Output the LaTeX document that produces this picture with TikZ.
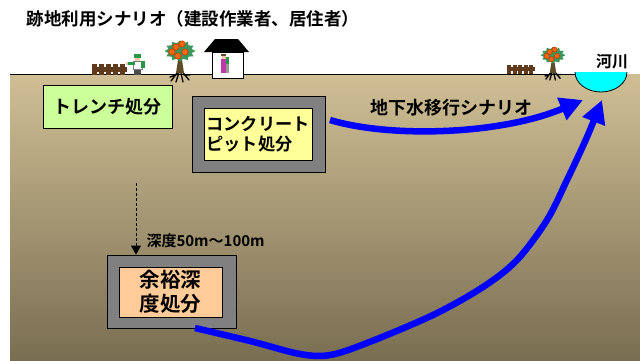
\documentclass[tikz,border=0pt]{standalone}
\usepackage{fontspec}
\setmainfont{Noto Sans CJK JP}[BoldFont={Noto Sans CJK JP Bold}]
\usetikzlibrary{arrows.meta}

\definecolor{groundtop}{RGB}{208,191,149}
\definecolor{groundmid}{RGB}{184,168,127}
\definecolor{groundbot}{RGB}{122,110,82}
\definecolor{trenchfill}{RGB}{204,255,153}
\definecolor{pitgray}{RGB}{128,128,128}
\definecolor{pityellow}{RGB}{255,255,153}
\definecolor{deeppeach}{RGB}{255,204,153}
\definecolor{riverfill}{RGB}{0,255,255}
\definecolor{flowblue}{RGB}{0,0,255}
\definecolor{leafgreen}{RGB}{58,150,92}
\definecolor{fruitorange}{RGB}{250,100,10}
\definecolor{fruitedge}{RGB}{190,60,0}
\definecolor{trunkbrown}{RGB}{92,76,40}
\definecolor{fencebrown}{RGB}{96,58,28}
\definecolor{workgreen}{RGB}{40,150,70}
\definecolor{skin}{RGB}{240,200,170}
\definecolor{dress}{RGB}{190,60,170}

\newcommand{\fs}[2]{\bfseries\fontsize{#1}{#2}\selectfont}

\tikzset{
  box/.style={draw=black, line width=0.8pt, inner sep=0pt},
  flow/.style={draw=flowblue, line width=6.5pt,
    -{Triangle[length=23pt,width=23pt]}},
  depthline/.style={draw=black, line width=0.8pt, dash pattern=on 3pt off 2pt,
    -{Triangle[length=9pt,width=10pt]}},
  tree/.pic={
    % roots
    \draw[black, line width=1.3pt, line cap=round]
      (0,-3) -- (-9,9) (0,-3) -- (-4,10) (0,-3) -- (3,10) (0,-3) -- (9,8)
      (-4,3) -- (-10,5) (4,3) -- (10,3);
    % trunk
    \fill[trunkbrown] (-4,1) -- (4,1) -- (2,-12) -- (-2,-12) -- cycle;
    % crown
    \fill[leafgreen] plot[domain=0:345, samples=24]
      ({(15.5-3.5*mod(\x/15,2))*cos(\x)}, {-21+(10.5-2.5*mod(\x/15,2))*sin(\x)}) -- cycle;
    % fruit
    \foreach \fx/\fy in {-4/-25, 2/-28, 5/-20, -2/-16, -8/-20}
      \filldraw[fill=fruitorange, draw=fruitedge, line width=0.5pt] (\fx,\fy) circle[radius=3.2];
  },
  fence/.pic={
    \fill[fencebrown] (0,3) rectangle (35,8);
    \foreach \px in {0,7,14,21,28}
      \fill[fencebrown] (\px,0) rectangle ++(5,11);
  }
}

\begin{document}
\begin{tikzpicture}[x=1pt, y=-1pt]
\useasboundingbox (0,0) rectangle (640,360);
\fill[white] (0,0) rectangle (640,360);

% ground
\shade[top color=groundtop, middle color=groundmid, bottom color=groundbot]
  (10,74) rectangle (640,360);
\draw[black, line width=1pt] (10,74) -- (576,74);

% river
\filldraw[fill=riverfill, draw=black, line width=0.8pt]
  (575,72) arc[start angle=180, end angle=0, x radius=26, y radius=20];
\node[font=\fs{16}{18}] (river) at (612,62) {河川};

% title
\node[anchor=west, font=\fs{17.5}{20}] (title) at (23,19)
  {跡地利用シナリオ（建設作業者、居住者）};

% surface: fences, worker, trees, house
\pic at (92,64) {fence};
\pic[scale=0.8] at (507,65) {fence};

% worker
\fill[black!70] (134,69) rectangle (141,75);
\fill[white] (133,61) rectangle (142,69);
\draw[black!50, line width=0.4pt] (133,61) rectangle (142,69);
\fill[workgreen] (127,62) rectangle (135,65);
\fill[workgreen] (141,61) rectangle (145,68);
\fill[skin] (135,57) rectangle (140,61);
\fill[workgreen] (134,54) rectangle (141,57.5);
\fill[skin] (126,62) rectangle (128,65);

\pic at (180,72) {tree};
\pic[scale=0.8] at (553,72) {tree};

% house
\fill[black] (204,52) -- (249,52) -- (238,39) -- (215,39) -- cycle;
\filldraw[fill=white, draw=black, line width=1pt] (212,52) rectangle (243,78);
\fill[dress] (221,59) rectangle (226,73);
\fill[skin] (222,55) rectangle (226,59);
\fill[trunkbrown] (221,54) rectangle (226,56);
\fill[workgreen] (226,57) rectangle (229,64);
\fill[black!40] (226,64) rectangle (229,73);

% disposal facilities
\node[box, fill=trenchfill, minimum width=129pt, minimum height=43pt,
  font=\fs{18}{20}] (trench) at (107.5,106.5) {トレンチ処分};

\node[box, fill=pitgray, minimum width=133pt, minimum height=76pt] (pit) at (258.5,134) {};
\node[box, fill=pityellow, minimum width=108pt, minimum height=52pt,
  align=left, font=\fs{17.2}{20}] (pitin) at (258,134) {コンクリート\\ピット処分};

\node[box, fill=pitgray, minimum width=129pt, minimum height=73pt] (deep) at (171.5,291.5) {};
\node[box, fill=deeppeach, minimum width=103pt, minimum height=50pt,
  align=center, font=\fs{20.5}{24}] (deepin) at (170.5,292) {余裕深\\度処分};

% depth indicator
\coordinate (depthtop) at (136,183);
\draw[depthline] (depthtop) -- (depthtop |- deep.north);
\node[anchor=west, font=\fs{15}{18}] (depth) at (143,241) {深度50m～100m};

% groundwater migration paths
\coordinate (g1s) at (330,120);
\coordinate (g1e) at (583,100);
\coordinate (g2s) at (195,328);
\coordinate (g2e) at (602,100);
\draw[flow] (g1s) .. controls (390,138) and (500,135) .. (g1e);
\draw[flow] plot[smooth, tension=0.55] coordinates {(g2s) (250,341) (300,354) (330,355)
  (367,343) (433,315) (483,287) (517,260) (547,220) (567,180) (587,137) (g2e)};
\node[font=\fs{18}{20}] (gwlabel) at (451,108) {地下水移行シナリオ};
\end{tikzpicture}
\end{document}
